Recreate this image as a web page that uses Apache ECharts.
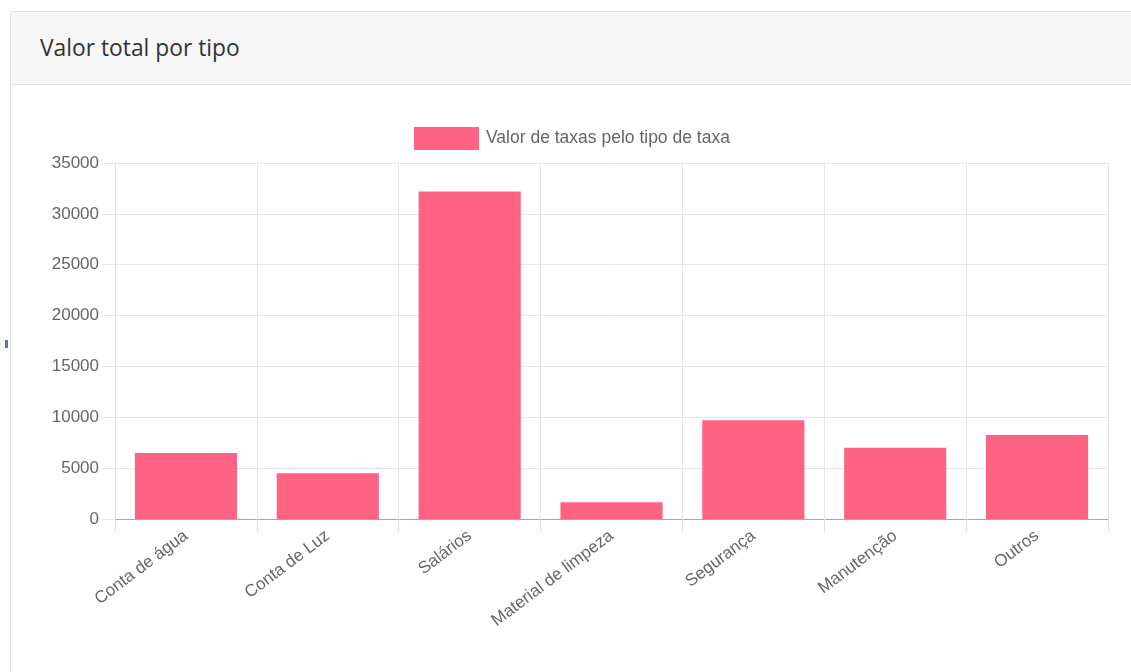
<!DOCTYPE html>
<html>
<head>
<meta charset="utf-8">
<script src="https://cdn.jsdelivr.net/npm/echarts@6/dist/echarts.min.js"></script>
<style>
  html, body { margin:0; padding:0; background:#fff; width:1131px; height:672px; overflow:hidden; }
  #card { position:absolute; left:10px; top:11px; width:1140px; height:700px; border:1px solid #e3e3e3; border-radius:3px; background:#fff; }
  #hdr { position:absolute; left:0; top:0; right:0; height:72px; background:#f7f7f7; border-bottom:1px solid #e0e0e0; }
  #hdr span { position:absolute; left:29px; top:21px; font-family:"Open Sans", sans-serif; font-size:22.8px; color:#333; line-height:30px; }
  #mark { position:absolute; left:5px; top:340px; width:3px; height:8px; background:#3b7be0; }
  #chart { position:absolute; left:0; top:0; width:1131px; height:672px; }
</style>
</head>
<body>
<div id="card"><div id="hdr"><span>Valor total por tipo</span></div></div>
<div id="mark"></div>
<div id="chart"></div>
<script>
const categories = ["Conta de água", "Conta de Luz", "Salários", "Material de limpeza", "Segurança", "Manutenção", "Outros"];
const seriesName = "Valor de taxas pelo tipo de taxa";
const values = [6500, 4500, 32200, 1650, 9700, 7000, 8250];
const yTicks = { min: 0, max: 35000, interval: 5000 };

const chart = echarts.init(document.getElementById('chart'), null, { renderer: 'canvas' });
const font = "Liberation Sans, Arial, sans-serif";
chart.setOption({
  animation: false,
  backgroundColor: 'transparent',
  legend: {
    left: 414, top: 127, padding: 0,
    itemWidth: 65, itemHeight: 23,
    icon: 'rect',
    textStyle: { color: '#666', fontSize: 17.5, fontFamily: font, padding: [0, 0, 0, 2] },
    data: [seriesName]
  },
  grid: { left: 115, right: 23, top: 163, bottom: 153, containLabel: false },
  xAxis: {
    type: 'category',
    data: categories,
    axisLine: { show: true, lineStyle: { color: '#a8a8a8', width: 1 } },
    axisTick: { show: true, length: 13, lineStyle: { color: '#e0e0e0' } },
    splitLine: { show: true, lineStyle: { color: '#e6e6e6' } },
    axisLabel: { rotate: 37, color: '#666', fontSize: 17, fontFamily: font, margin: 15, interval: 0 }
  },
  yAxis: {
    type: 'value',
    min: yTicks.min, max: yTicks.max, interval: yTicks.interval,
    axisLine: { show: true, lineStyle: { color: '#e0e0e0' } },
    axisTick: { show: true, length: 13, lineStyle: { color: '#e6e6e6' } },
    splitLine: { show: true, lineStyle: { color: '#e6e6e6' } },
    axisLabel: { color: '#666', fontSize: 17, fontFamily: font, margin: 16, formatter: v => String(v) }
  },
  series: [{
    name: seriesName,
    type: 'bar',
    data: values,
    barCategoryGap: '28%',
    itemStyle: { color: '#ff6384' }
  }]
});
</script>
</body>
</html>
